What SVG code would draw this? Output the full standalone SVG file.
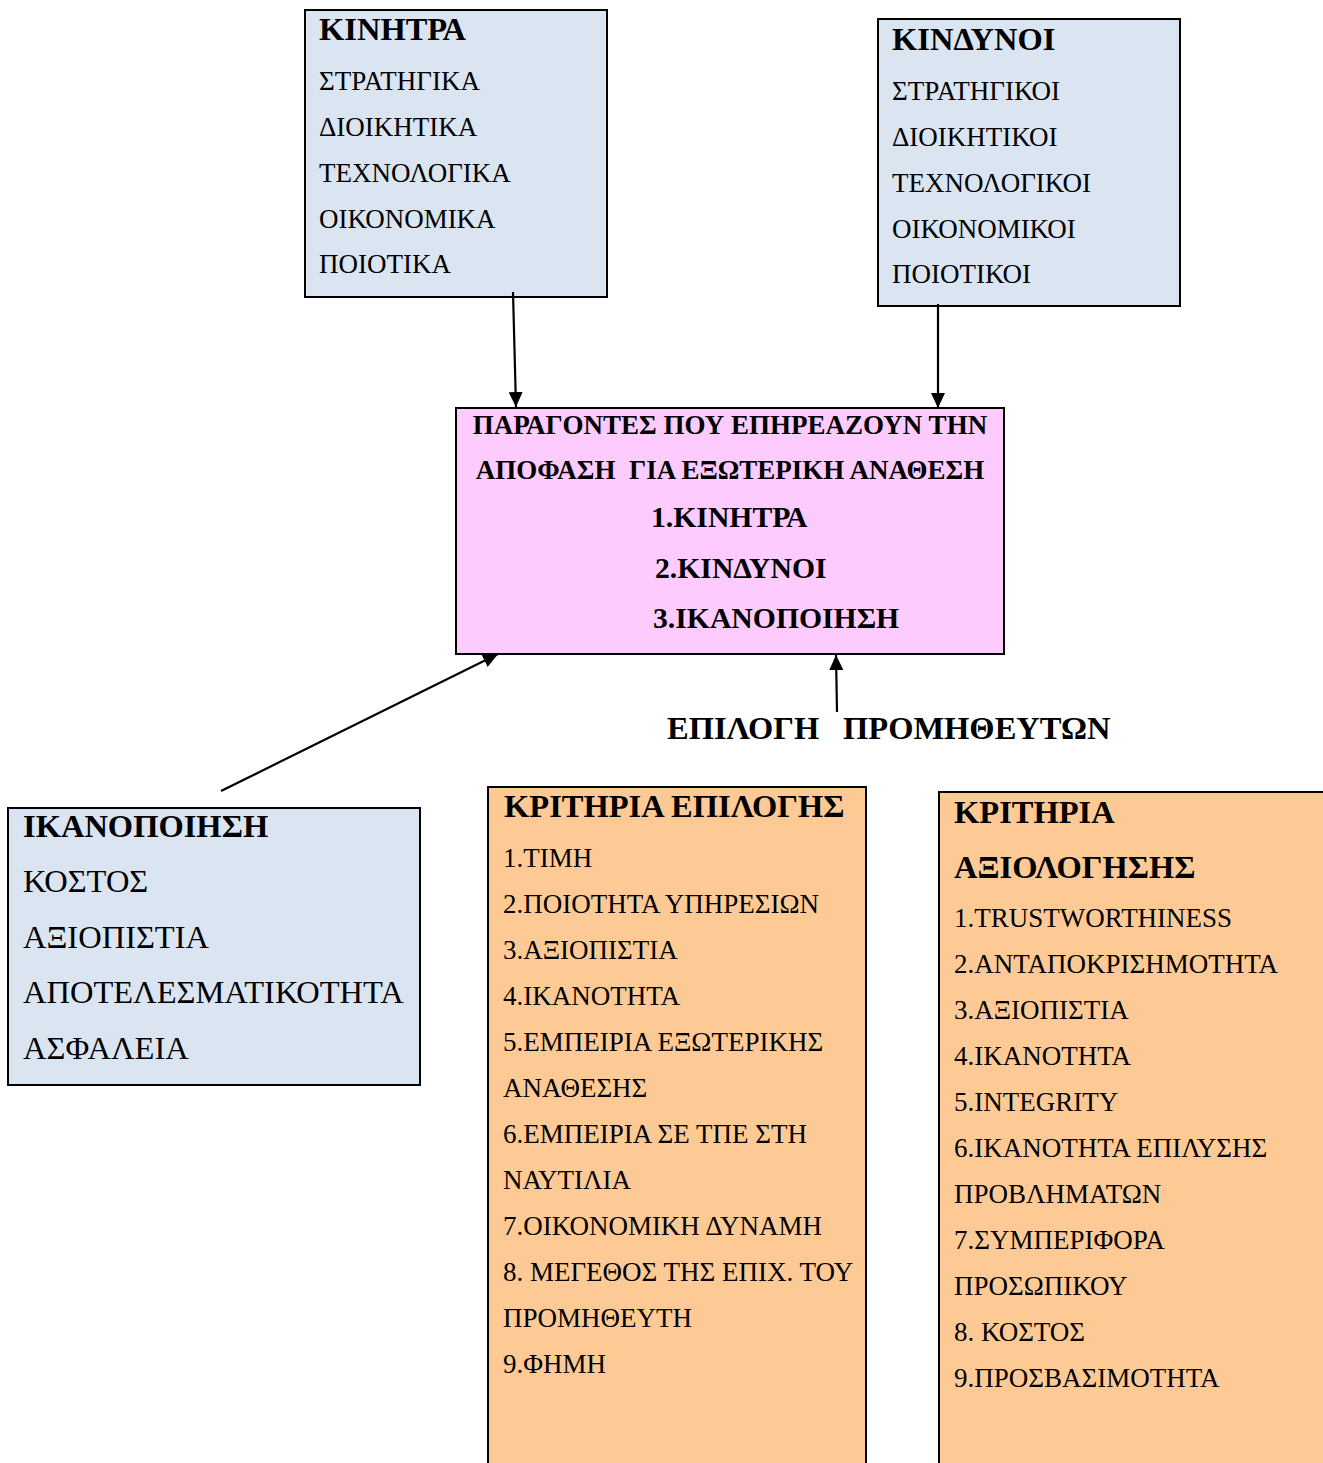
<svg xmlns="http://www.w3.org/2000/svg" width="1323" height="1463" viewBox="0 0 1323 1463">
  <defs>
    <marker id="arrow" viewBox="0 0 15 14" refX="15" refY="7" markerWidth="15" markerHeight="14" markerUnits="userSpaceOnUse" orient="auto">
      <path d="M0,0 L15,7 L0,14 Z" fill="#000"/>
    </marker>
    <style>
      .box { stroke: #000; stroke-width: 2; }
      .blue { fill: #dbe5f1; }
      .pink { fill: #fdcbfd; }
      .tan { fill: #fdca96; }
      text { font-family: "Liberation Serif", "Times New Roman", serif; fill: #000; }
      .title { font-size: 32.5px; font-weight: bold; }
      .item { font-size: 27px; }
      .item-lg { font-size: 32.5px; }
      .hdr { font-size: 27px; font-weight: bold; white-space: pre; }
      .hdr-lg { font-size: 29.7px; font-weight: bold; }
      .conn { stroke: #000; stroke-width: 2.2; fill: none; marker-end: url(#arrow); }
    </style>
  </defs>

  <rect width="1323" height="1463" fill="#fff"/>

  <!-- motives -->
  <g id="kinitra">
    <rect class="box blue" x="305" y="10" width="302" height="287"/>
    <text class="title" x="319" y="40">ΚΙΝΗΤΡΑ</text>
    <text class="item" x="319" y="90">ΣΤΡΑΤΗΓΙΚΑ</text>
    <text class="item" x="319" y="136">ΔΙΟΙΚΗΤΙΚΑ</text>
    <text class="item" x="319" y="182">ΤΕΧΝΟΛΟΓΙΚΑ</text>
    <text class="item" x="319" y="228">ΟΙΚΟΝΟΜΙΚΑ</text>
    <text class="item" x="319" y="273">ΠΟΙΟΤΙΚΑ</text>
  </g>

  <!-- risks -->
  <g id="kindynoi">
    <rect class="box blue" x="878" y="19" width="302" height="287"/>
    <text class="title" x="892" y="50">ΚΙΝΔΥΝΟΙ</text>
    <text class="item" x="892" y="100">ΣΤΡΑΤΗΓΙΚΟΙ</text>
    <text class="item" x="892" y="146">ΔΙΟΙΚΗΤΙΚΟΙ</text>
    <text class="item" x="892" y="192">ΤΕΧΝΟΛΟΓΙΚΟΙ</text>
    <text class="item" x="892" y="238">ΟΙΚΟΝΟΜΙΚΟΙ</text>
    <text class="item" x="892" y="283">ΠΟΙΟΤΙΚΟΙ</text>
  </g>

  <!-- central decision factors -->
  <g id="paragontes">
    <rect class="box pink" x="456" y="408" width="548" height="246"/>
    <text class="hdr" x="730" y="434" text-anchor="middle">ΠΑΡΑΓΟΝΤΕΣ ΠΟΥ ΕΠΗΡΕΑΖΟΥΝ ΤΗΝ</text>
    <text class="hdr" x="730" y="479" text-anchor="middle" xml:space="preserve">ΑΠΟΦΑΣΗ  ΓΙΑ ΕΞΩΤΕΡΙΚΗ ΑΝΑΘΕΣΗ</text>
    <text class="hdr-lg" x="651" y="527">1.ΚΙΝΗΤΡΑ</text>
    <text class="hdr-lg" x="655" y="578">2.ΚΙΝΔΥΝΟΙ</text>
    <text class="hdr-lg" x="653" y="628">3.ΙΚΑΝΟΠΟΙΗΣΗ</text>
  </g>

  <!-- satisfaction -->
  <g id="ikanopoiisi">
    <rect class="box blue" x="8" y="808" width="412" height="277"/>
    <text class="title" x="23" y="837">ΙΚΑΝΟΠΟΙΗΣΗ</text>
    <text class="item-lg" x="23" y="892">ΚΟΣΤΟΣ</text>
    <text class="item-lg" x="23" y="948">ΑΞΙΟΠΙΣΤΙΑ</text>
    <text class="item-lg" x="23" y="1003">ΑΠΟΤΕΛΕΣΜΑΤΙΚΟΤΗΤΑ</text>
    <text class="item-lg" x="23" y="1059">ΑΣΦΑΛΕΙΑ</text>
  </g>

  <!-- supplier selection label -->
  <g id="epilogi">
    <text class="title" x="667" y="739">ΕΠΙΛΟΓΗ</text>
    <text class="title" x="843" y="739">ΠΡΟΜΗΘΕΥΤΩΝ</text>
  </g>

  <!-- selection criteria -->
  <g id="kritiria-epilogis">
    <rect class="box tan" x="488" y="787" width="378" height="690"/>
    <text class="title" x="504" y="817">ΚΡΙΤΗΡΙΑ ΕΠΙΛΟΓΗΣ</text>
    <text class="item" x="503" y="867">1.ΤΙΜΗ</text>
    <text class="item" x="503" y="913">2.ΠΟΙΟΤΗΤΑ ΥΠΗΡΕΣΙΩΝ</text>
    <text class="item" x="503" y="959">3.ΑΞΙΟΠΙΣΤΙΑ</text>
    <text class="item" x="503" y="1005">4.ΙΚΑΝΟΤΗΤΑ</text>
    <text class="item" x="503" y="1051">5.ΕΜΠΕΙΡΙΑ ΕΞΩΤΕΡΙΚΗΣ</text>
    <text class="item" x="503" y="1097">ΑΝΑΘΕΣΗΣ</text>
    <text class="item" x="503" y="1143">6.ΕΜΠΕΙΡΙΑ ΣΕ ΤΠΕ ΣΤΗ</text>
    <text class="item" x="503" y="1189">ΝΑΥΤΙΛΙΑ</text>
    <text class="item" x="503" y="1235">7.ΟΙΚΟΝΟΜΙΚΗ ΔΥΝΑΜΗ</text>
    <text class="item" x="503" y="1281">8. ΜΕΓΕΘΟΣ ΤΗΣ ΕΠΙΧ. ΤΟΥ</text>
    <text class="item" x="503" y="1327">ΠΡΟΜΗΘΕΥΤΗ</text>
    <text class="item" x="503" y="1373">9.ΦΗΜΗ</text>
  </g>

  <!-- evaluation criteria -->
  <g id="kritiria-axiologisis">
    <rect class="box tan" x="939" y="792" width="400" height="690"/>
    <text class="title" x="954" y="823">ΚΡΙΤΗΡΙΑ</text>
    <text class="title" x="954" y="878">ΑΞΙΟΛΟΓΗΣΗΣ</text>
    <text class="item" x="954" y="927">1.TRUSTWORTHINESS</text>
    <text class="item" x="954" y="973">2.ΑΝΤΑΠΟΚΡΙΣΗΜΟΤΗΤΑ</text>
    <text class="item" x="954" y="1019">3.ΑΞΙΟΠΙΣΤΙΑ</text>
    <text class="item" x="954" y="1065">4.ΙΚΑΝΟΤΗΤΑ</text>
    <text class="item" x="954" y="1111">5.INTEGRITY</text>
    <text class="item" x="954" y="1157">6.ΙΚΑΝΟΤΗΤΑ ΕΠΙΛΥΣΗΣ</text>
    <text class="item" x="954" y="1203">ΠΡΟΒΛΗΜΑΤΩΝ</text>
    <text class="item" x="954" y="1249">7.ΣΥΜΠΕΡΙΦΟΡΑ</text>
    <text class="item" x="954" y="1295">ΠΡΟΣΩΠΙΚΟΥ</text>
    <text class="item" x="954" y="1341">8. ΚΟΣΤΟΣ</text>
    <text class="item" x="954" y="1387">9.ΠΡΟΣΒΑΣΙΜΟΤΗΤΑ</text>
  </g>

  <!-- connectors -->
  <g id="connectors">
    <line class="conn" x1="513" y1="292" x2="516" y2="407"/>
    <line class="conn" x1="938" y1="304" x2="938" y2="408"/>
    <line class="conn" x1="221" y1="791" x2="498" y2="654"/>
    <line class="conn" x1="837" y1="712" x2="836" y2="655"/>
  </g>
</svg>
